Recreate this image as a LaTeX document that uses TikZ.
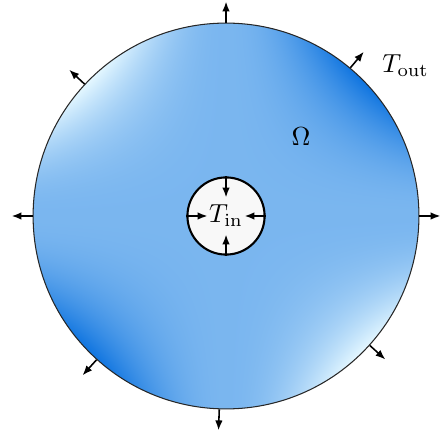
\documentclass[tikz,border=0pt]{standalone}
\usepackage{amsmath,amssymb}
\usepackage{xcolor}
\usepackage{tikz}
\usetikzlibrary{arrows.meta,positioning,shapes.geometric,calc}
\definecolor{holefill}{HTML}{F8F8F8}
% light in two opposite quadrants, deep blue in the other two
\pgfdeclarefunctionalshading{wallshade}{\pgfpoint{0bp}{0bp}}{\pgfpoint{100bp}{100bp}}{}{
  25 sub 50 div 0.5 sub exch 25 sub 50 div 0.5 sub
  mul dup dup abs mul 33 mul 0.5 add
  dup 0 lt {pop 0} if dup 1 gt {pop 1} if
  dup -0.815 mul 0.886 add
  exch dup -0.502 mul 0.965 add
  exch -0.122 mul 1.0 add
}

\begin{document}
\begin{tikzpicture}[
          every node/.style={font=\normalsize},
          region/.style={circle,draw=black!85,line width=0.4pt,minimum size=5.2cm,
                         shade,shading=wallshade},
          hole/.style={circle,draw,thick,fill=holefill,minimum size=1.04cm,
                       inner sep=0pt},
          flux/.style={-{Latex[length=3.8pt,width=2.9pt]},semithick},
      ]
        \useasboundingbox (-3.046,-2.925) rectangle (2.884,2.911);
        \node[region] (omega) at (0,0) {};
        \node[hole] (hole) at (0,0) {$T_{\mathrm{in}}$};
        \node (lblomega) at (1.01,1.07) {$\Omega$};
        \node (tout) at (2.42,2.03) {$T_{\mathrm{out}}$};

        % heat leaving through the outer wall
        \foreach \a in {0,50,90,137,180,228,268,318} {
          \coordinate (tip\a) at (\a:2.89);
          \draw[flux] (omega.\a) -- (tip\a);
        }

        % heat entering from the inner wall
        \foreach \a in {0,90,180,270} {
          \coordinate (sink\a) at (\a:0.25);
          \draw[flux] (hole.\a) -- (sink\a);
        }
      \end{tikzpicture}
\end{document}
